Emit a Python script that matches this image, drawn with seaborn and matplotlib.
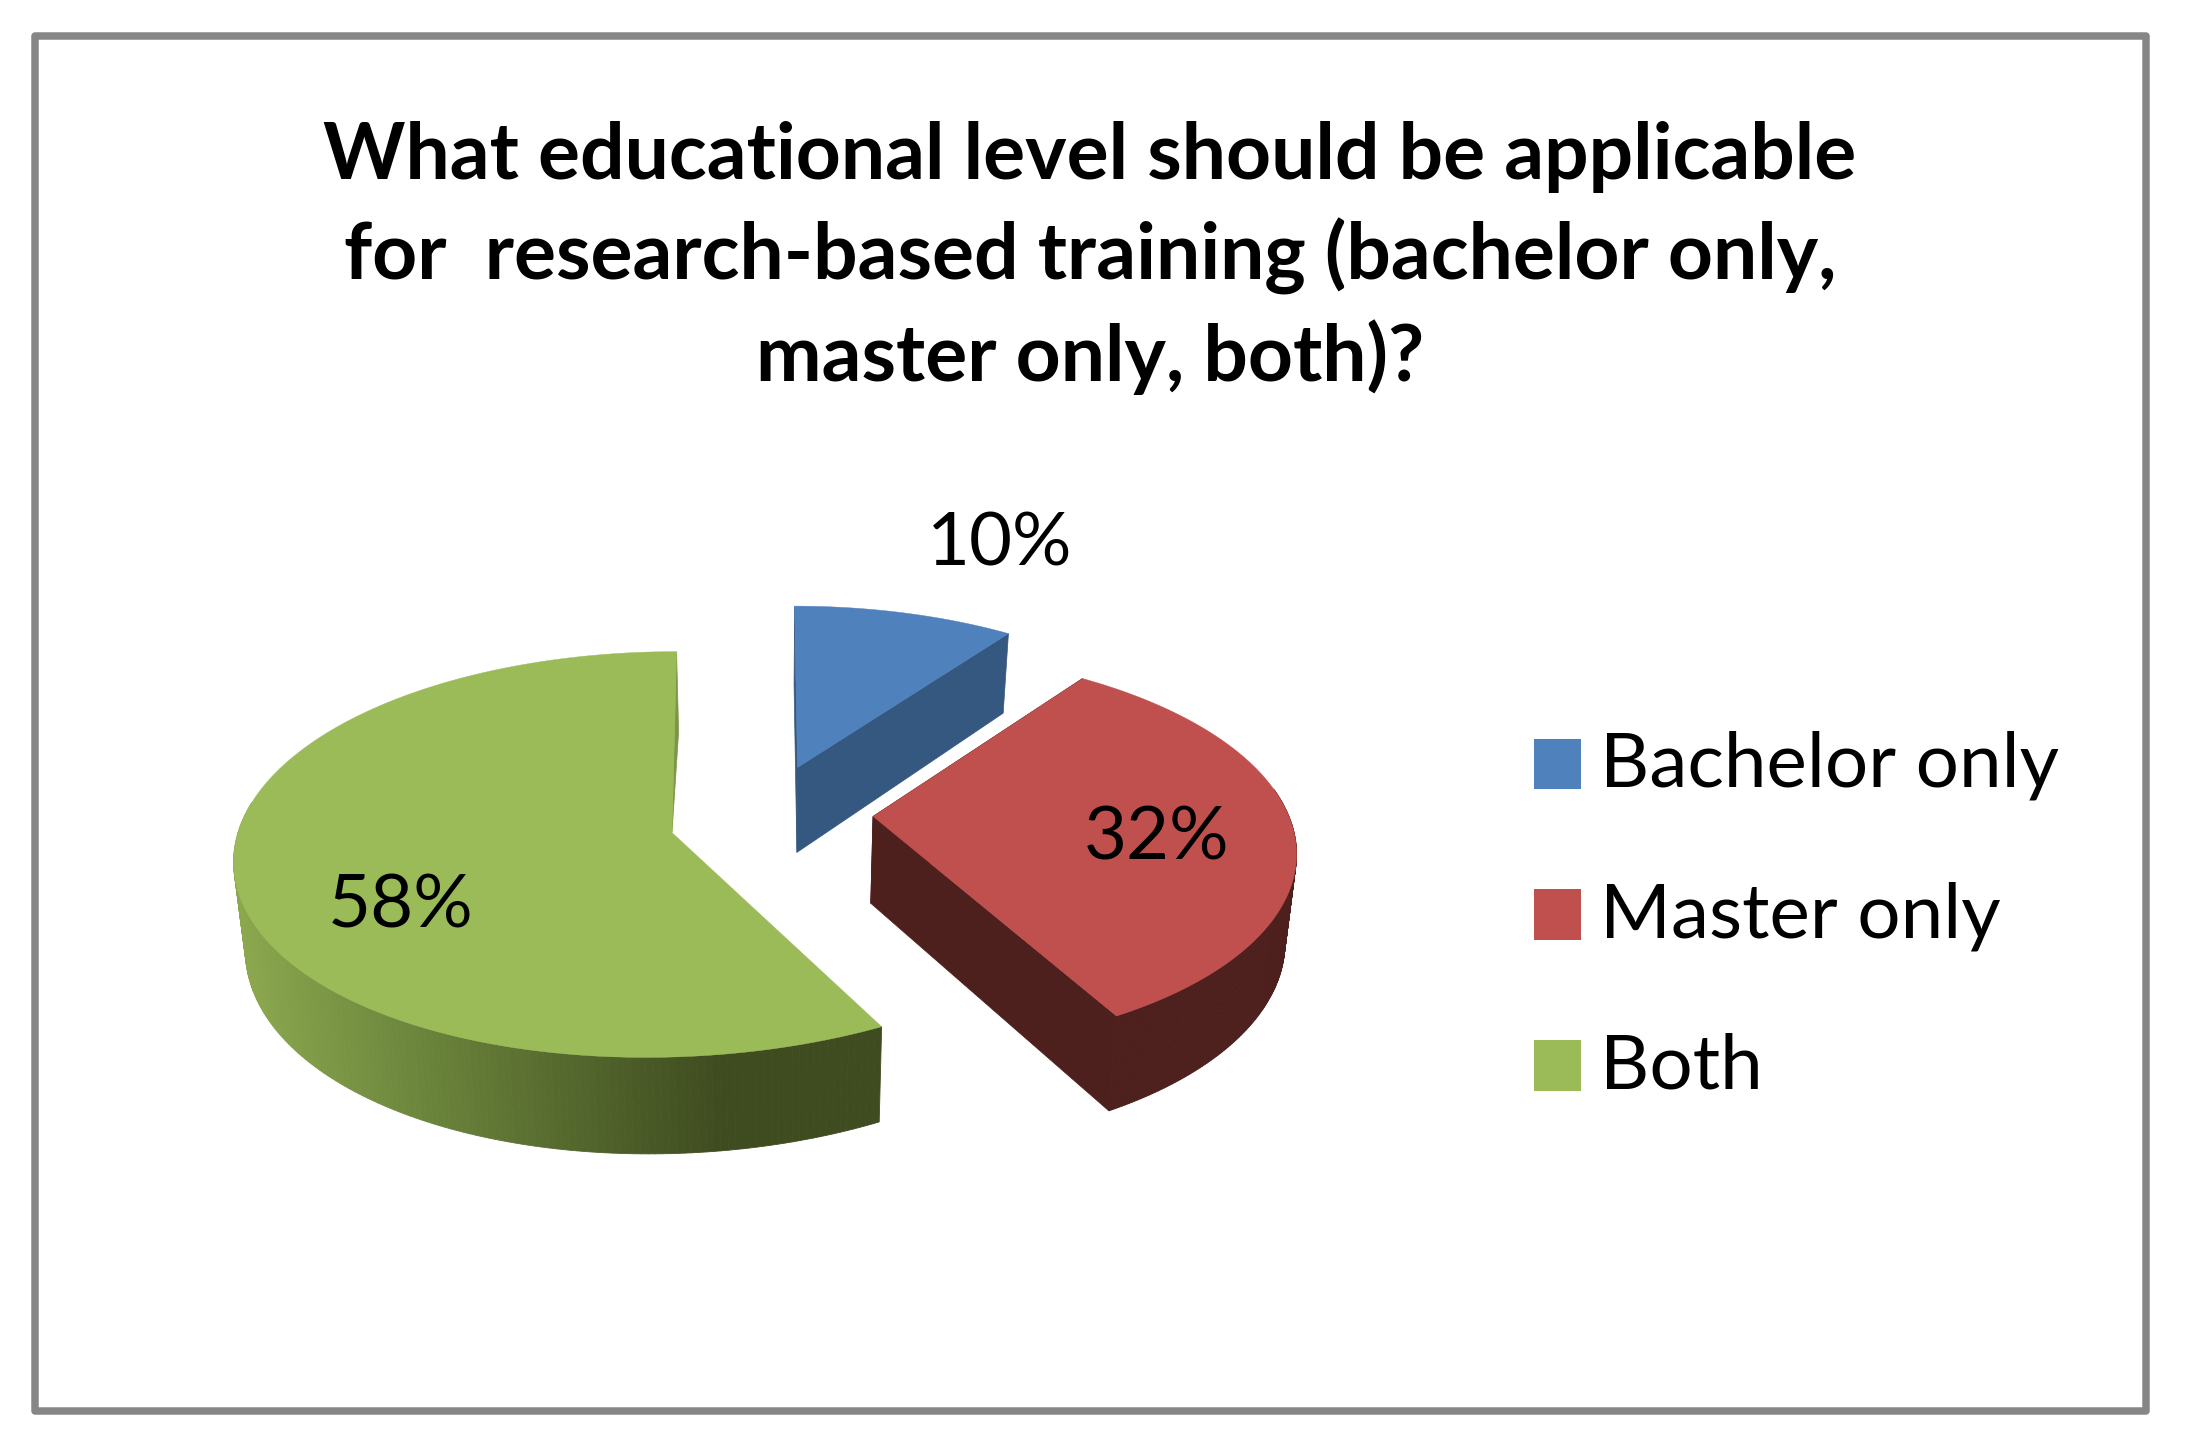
import matplotlib
matplotlib.use("Agg")
import matplotlib.pyplot as plt
from matplotlib.patches import Patch, Rectangle
import numpy as np
import seaborn as sns

# ── data ──────────────────────────────────────────────────────────────────────

categories = ["Bachelor only", "Master only", "Both"]
shares = [10, 32, 58]
share_labels = ["10%", "32%", "58%"]
title_lines = [
    "What educational level should be applicable",
    "for  research-based training (bachelor only,",
    "master only, both)?",
]

# ── style ─────────────────────────────────────────────────────────────────────

sns.set_theme(style="white")
plt.rcParams["font.family"] = ["Lato", "DejaVu Sans"]

top_colors = sns.color_palette(["#4F81BD", "#C0504D", "#9BBB59"])
face_colors = ["#34587F", "#4D1F1D", "#7C9647"]
wall_ramps = [
    ["#34587F", "#34587F"],
    ["#4D1F1D", "#4D1F1D"],
    ["#8CA84E", "#6F8A3E", "#566A2E", "#3F4C20", "#3F4C20"],
]

# apex in pixels, radius, vertical squash, perspective, shear terms per slice
layout = [
    dict(apex=(797.5, 767.5), r=407, t=0.456, k=0.15, a=0.018, b=0.0),
    dict(apex=(873.0, 816.4), r=416, t=0.466, k=0.17, a=0.04, b=0.0),
    dict(apex=(672.0, 832.6), r=434, t=0.462, k=0.108, a=-0.066, b=-2.25e-4),
]
label_spots = [(1000, 566), (1157, 859), (401, 928)]


def project(theta, p):
    """Ground-plane angle (clockwise from the back) to a point on the top face."""
    X, Y = np.sin(theta), np.cos(theta)
    s = 1 / (1 + p["k"] * Y)
    dy = -Y * p["t"] * s * p["r"]
    dx = X * s * p["r"] + p["a"] * dy + p["b"] * dy * dy
    return p["apex"][0] + dx, p["apex"][1] + dy


def lower(x, y):
    """Same point on the bottom face, a bit narrower and further down."""
    return 770 + (x - 770) * 0.978, y * 1.04 + 54.2


fig, ax = plt.subplots(figsize=(21.86, 14.40), dpi=100)
fig.subplots_adjust(0, 0, 1, 1)
ax.set_xlim(0, 2186)
ax.set_ylim(1440, 0)
ax.axis("off")

ax.add_patch(Rectangle((34.5, 36), 2111, 1375, fill=False, ec="#868686", lw=5.4, joinstyle="round"))

# ── 3D slices ─────────────────────────────────────────────────────────────────

edges = np.cumsum([0] + shares) / sum(shares) * 2 * np.pi
for i in range(len(shares)):
    p = layout[i]
    th = np.linspace(edges[i], edges[i + 1], 240)
    xs, ys = project(th, p)
    bx, by = lower(xs, ys)
    ax0, ay0 = p["apex"]
    lx0, ly0 = lower(ax0, ay0)

    # cut faces: the big slice only shows a sliver that tapers into its apex
    if i == 2:
        ax.fill([ax0, xs[-1], bx[-1]], [ay0, ys[-1], by[-1]], color=face_colors[i], lw=0.5, zorder=2 + i)
    else:
        for j in (0, -1):
            ax.fill([ax0, xs[j], bx[j], lx0], [ay0, ys[j], by[j], ly0],
                    color=face_colors[i], lw=0.5, zorder=2 + i)

    # outer wall, shaded left to right, only the part facing the viewer
    ramp = sns.blend_palette(wall_ramps[i], n_colors=256)
    for j in range(len(th) - 1):
        if np.cos(th[j]) > 0.15:
            continue
        frac = np.clip((xs[j] - xs.min()) / (xs.max() - xs.min()), 0, 1)
        ax.fill([xs[j], xs[j + 1], bx[j + 1], bx[j]], [ys[j], ys[j + 1], by[j + 1], by[j]],
                color=ramp[int(frac * 255)], lw=0.6, zorder=2 + i)

    ax.fill(np.r_[ax0, xs], np.r_[ay0, ys], color=top_colors[i], lw=0.3, zorder=2 + i)
    ax.text(label_spots[i][0], label_spots[i][1], share_labels[i], ha="center", va="baseline",
            fontsize=53.5, color="black", zorder=10)

# ── text ──────────────────────────────────────────────────────────────────────

for line, base in zip(title_lines, [179, 280, 381]):
    ax.text(1090, base, line, ha="center", va="baseline", fontsize=56.5, fontweight="bold", color="black")

handles = [Patch(facecolor=c, edgecolor="none") for c in top_colors]
leg = ax.legend(handles, categories, loc="upper left", bbox_to_anchor=(1534, 731),
                bbox_transform=ax.transData, frameon=False, fontsize=55, labelcolor="black",
                handlelength=0.615, handleheight=0.64, handletextpad=0.25, labelspacing=1.065,
                borderpad=0, borderaxespad=0)
# squares sit on the text baseline
for h in leg.legend_handles:
    h.set_y(h.get_y() - 2.6)

fig.savefig("out.png", dpi=100)
